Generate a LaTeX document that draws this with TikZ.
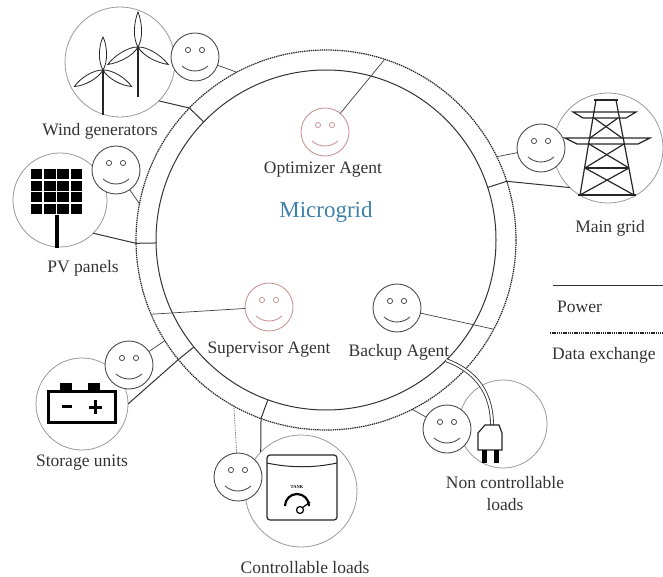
\documentclass[tikz,border=0pt]{standalone}
\usepackage{fontspec}
\setmainfont{Liberation Serif}
\usepackage{tikz}

\definecolor{gridblue}{RGB}{62,128,170}
\definecolor{agentred}{RGB}{205,150,150}

\begin{document}
\begin{tikzpicture}[x=1pt, y=-1pt,
  agent/.style={circle, draw=#1, fill=white, line width=0.9pt, minimum size=48pt, inner sep=0pt, outer sep=0pt,
    path picture={
      \draw[#1, line width=0.8pt] ([shift={(-7pt,7pt)}]path picture bounding box.center) circle[radius=2.6pt]
        ([shift={(7pt,7pt)}]path picture bounding box.center) circle[radius=2.6pt];
      \draw[#1, line width=0.9pt] ([shift={(-13pt,-9pt)}]path picture bounding box.center) arc[start angle=228, end angle=312, radius=19.4pt];
    }},
  agent/.default=black!70,
  device/.style={circle, draw=black!40, line width=0.8pt, minimum size=#1, inner sep=0pt, outer sep=0pt},
  ring/.style={circle, draw=black!80, line width=1pt, minimum size=#1, inner sep=0pt, outer sep=0pt},
  power/.style={draw=black!80, line width=1pt},
  datalink/.style={draw=black!75, line width=0.7pt},
  dotline/.style={draw=black!85, line width=1.2pt, dash pattern=on 1.4pt off 0.8pt},
  lbl/.style={text=black!80, font=\fontsize{17.5}{22}\selectfont, inner sep=0pt},
  icon/.style={draw=black!85, line width=1.2pt}]
\useasboundingbox (0,0) rectangle (663,577);

\node[ring=340pt] (bus) at (326,240) {};
\node[ring=380pt, dotline] (data) at (326,240) {};

\node[device=110pt] (wind) at (120,62) {};
\node[device=94pt] (pv) at (60,200) {};
\node[device=110pt] (grid) at (608,148) {};
\node[device=92pt] (stor) at (82,404) {};
\node[device=112pt] (ctrl) at (301,491) {};
\node[device=88pt] (nc) at (503,424) {};

\foreach \hx/\hy/\ty/\len in {103/70/115/33, 138/47/97/35} {
  \draw[icon, line width=2pt] (\hx,\hy) -- (\hx,\ty);
  \foreach \a in {90,210,330}
    \draw[icon, line width=0.8pt, shift={(\hx,\hy)}, rotate=\a] (0,0) .. controls (8pt,5pt) and (24pt,4.5pt) .. (\len pt,0pt) .. controls (24pt,-4.5pt) and (8pt,-5pt) .. (0,0);
}

\foreach \i in {0,...,3}
  \foreach \j in {0,...,3}
    \fill[black] (30+13.25*\i+0.8,168+11.75*\j+0.8) rectangle (30+13.25*\i+12.45,168+11.75*\j+10.95);
\draw[black, line width=3.5pt] (57,215) -- (57,248);

\draw[icon] (594,100) -- (618,100);
\draw[icon] (596,100) -- (580,195);
\draw[icon] (616,100) -- (634,195);
\draw[icon] (573,112) -- (636,112) -- (626,118) -- (583,118) -- cycle;
\draw[icon] (565,138) -- (650,138) -- (638,144) -- (577,144) -- cycle;
\draw[icon] (594,118) -- (622,138);
\draw[icon] (618,118) -- (590,138);
\draw[icon] (589,144) -- (629,168);
\draw[icon] (624,144) -- (585,168);
\draw[icon] (585,168) -- (629,168);
\draw[icon] (585,168) -- (634,195);
\draw[icon] (629,168) -- (580,195);
\draw[icon] (578,195) -- (636,195);

\draw[black, line width=3pt] (48,391) rectangle (115,422);
\fill[black] (60,383) rectangle (72,391);
\fill[black] (88,383) rectangle (100,391);
\draw[black, line width=3pt] (62,406) -- (72,406);
\draw[black, line width=3pt] (89,407) -- (102,407);
\draw[black, line width=3pt] (95.5,400) -- (95.5,414);

\draw[icon, fill=white, rounded corners=3pt] (267,455) rectangle (337,520);
\draw[icon, line width=1pt] (267,463) .. controls (290,468) and (314,468) .. (337,463);
\node[font=\fontsize{4.5}{5}\selectfont\bfseries, inner sep=0pt] (tank) at (297,487) {TANK};
\draw[black, line width=2.2pt] (285,506) arc[start angle=180, end angle=0, radius=12pt];
\draw[black, line width=1.2pt, fill=white] (300,510) circle[radius=3.5pt];
\draw[black, line width=1.2pt] (302,508) -- (310,502);

\draw[power] (wind.-45) -- (data.136) -- (bus.136);
\draw[power] (pv.-45) -- (data.181) -- (bus.181);
\draw[power] (grid.226) -- (data.18) -- (bus.18);
\draw[power] (stor.0) -- (data.219) -- (bus.219);
\draw[power] (ctrl.136) -- (data.250) -- (bus.250);

\coordinate (plugtop) at (492,425);
\draw[draw=black!85, line width=0.8pt, double=white, double distance=2.2pt] (bus.315) .. controls (478,372) and (492,395) .. (plugtop);
\draw[icon, fill=white] (485,425) -- (499,425) -- (502,433) -- (502,450) -- (478,450) -- (478,433) -- cycle;
\fill[black] (482,450) rectangle (487,463);
\fill[black] (494,450) rectangle (499,463);

\node[agent] (windsm) at (195,57) {};
\node[agent] (pvsm) at (116,170) {};
\node[agent=agentred] (optsm) at (325,132) {};
\node[agent] (gridsm) at (541,148) {};
\node[agent=agentred] (supsm) at (269,307) {};
\node[agent] (bupsm) at (397,308) {};
\node[agent] (storsm) at (129,365) {};
\node[agent] (ctrlsm) at (238,477) {};
\node[agent] (ncsm) at (447,429) {};

\draw[datalink] (windsm) -- (data.118);
\draw[datalink] (pvsm) -- (data.169);
\draw[datalink] (optsm) -- (data.72);
\draw[datalink] (gridsm) -- (data.26);
\draw[datalink] (supsm) -- (data.203);
\draw[datalink] (bupsm) -- (data.332);
\draw[datalink] (storsm) -- (data.212);
\draw[datalink, densely dotted] (ctrlsm) -- (data.241);
\draw[datalink] (ncsm) -- (data.297);

\node[lbl] (windlbl) at (100,131) {Wind generators};
\node[lbl] (pvlbl) at (83,268) {PV panels};
\node[lbl] (optlbl) at (323,170) {Optimizer Agent};
\node[lbl, text=gridblue, font=\fontsize{23}{26}\selectfont] (mglbl) at (326,212) {Microgrid};
\node[lbl] (gridlbl) at (610,228) {Main grid};
\node[lbl] (suplbl) at (269,350) {Supervisor Agent};
\node[lbl] (buplbl) at (399,352) {Backup Agent};
\node[lbl] (storlbl) at (82,463) {Storage units};
\node[lbl] (ctrllbl) at (305,568) {Controllable loads};
\node[lbl, align=center] (nclbl) at (505,494) {Non controllable\\loads};

\coordinate (pw1) at (553,285);
\coordinate (pw2) at (663,285);
\coordinate (dx1) at (550,333);
\coordinate (dx2) at (663,333);
\draw[power] (pw1) -- (pw2);
\draw[dotline] (dx1) -- (dx2);
\node[lbl, anchor=west] (pwlbl) at (557,307) {Power};
\node[lbl, anchor=west] (dxlbl) at (552,355) {Data exchange};
\end{tikzpicture}
\end{document}
